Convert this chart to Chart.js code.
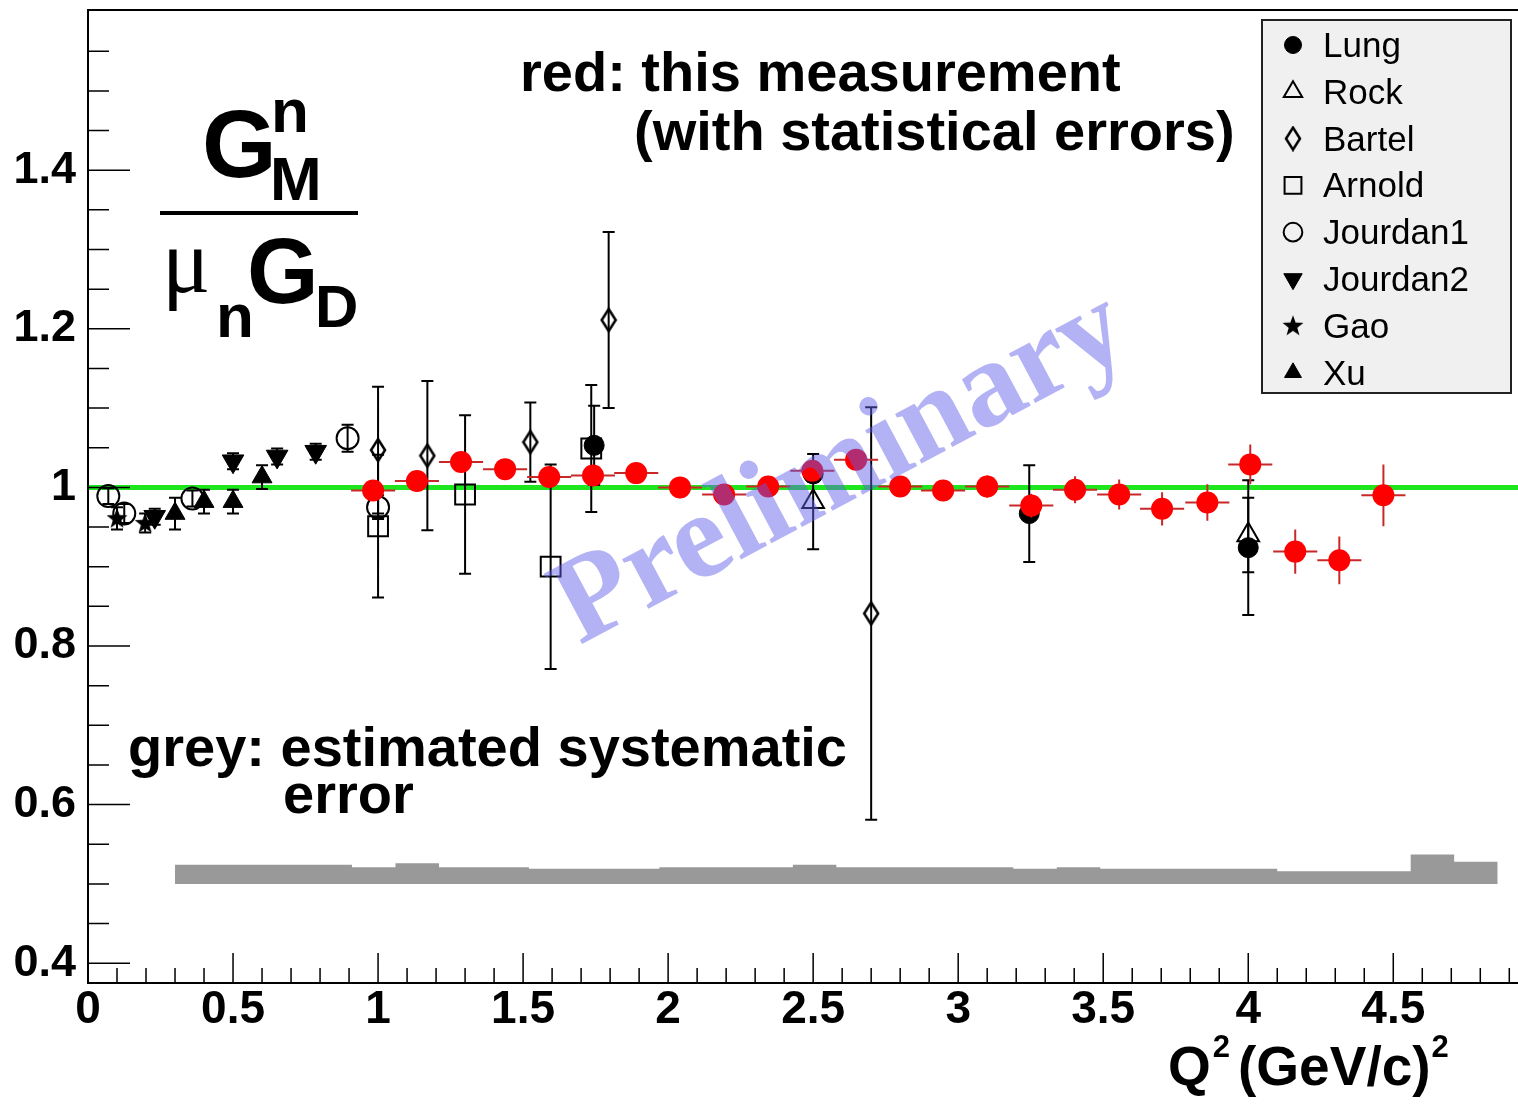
<!DOCTYPE html>
<html>
<head>
<meta charset="utf-8">
<script src="https://cdn.jsdelivr.net/npm/chart.js@4.4.1/dist/chart.umd.min.js"></script>
<style>
  html, body { margin: 0; padding: 0; background: #fff; }
  #wrap { width: 1518px; height: 1112px; }
</style>
</head>
<body>
<div id="wrap"><canvas id="myChart" width="1518" height="1112"></canvas></div>
<script>
// axis ranges and tick labels
var xRange = [0, 4.93];
var yRange = [0.375, 1.602];
var xTicks = [0, 0.5, 1, 1.5, 2, 2.5, 3, 3.5, 4, 4.5];
var yTicks = [0.4, 0.6, 0.8, 1, 1.2, 1.4];

// red: this measurement
var redQ2 = [0.983, 1.134, 1.286, 1.438, 1.590, 1.741, 1.890, 2.041, 2.193, 2.345, 2.497, 2.648,
             2.800, 2.948, 3.100, 3.252, 3.403, 3.555, 3.703, 3.859, 4.007, 4.162, 4.314, 4.466];
var redVal = [0.996, 1.008, 1.032, 1.023, 1.013, 1.015, 1.018, 1.000, 0.991, 1.001, 1.021, 1.035,
              1.001, 0.996, 1.001, 0.977, 0.997, 0.991, 0.973, 0.981, 1.029, 0.919, 0.908, 0.990];
var redErr = [0.009, 0.009, 0.009, 0.009, 0.010, 0.010, 0.010, 0.011, 0.011, 0.011, 0.012, 0.012,
              0.013, 0.013, 0.014, 0.015, 0.017, 0.019, 0.021, 0.023, 0.025, 0.028, 0.030, 0.039];
var redBinHalf = 0.076;

// grey: systematic error band (bin edges, top of band, bottom of band)
var bandEdges = [0.30, 0.45, 0.60, 0.76, 0.91, 1.06, 1.21, 1.36, 1.52, 1.67, 1.82, 1.97, 2.12, 2.28, 2.43, 2.58,
                 2.73, 2.88, 3.04, 3.19, 3.34, 3.49, 3.64, 3.80, 3.95, 4.10, 4.25, 4.40, 4.56, 4.71, 4.86];
var bandTop = [0.524, 0.524, 0.524, 0.524, 0.521, 0.526, 0.521, 0.521, 0.519, 0.519, 0.519, 0.521, 0.521, 0.521, 0.524,
               0.521, 0.521, 0.521, 0.521, 0.519, 0.521, 0.519, 0.519, 0.519, 0.519, 0.516, 0.516, 0.516, 0.537, 0.528];
var bandBase = 0.5;

var unityLine = [1, 1];

// world data
var lungQ2 = [1.745, 2.5, 3.245, 4.0];
var lungVal = [1.053, 1.017, 0.967, 0.924];
var lungErr = [0.05, 0.01, 0.061, 0.085];

var rockQ2 = [2.5, 4.0];
var rockVal = [0.982, 0.94];
var rockErr = [0.06, 0.047];

var bartelQ2 = [1.0, 1.17, 1.525, 1.795, 2.7];
var bartelVal = [1.047, 1.040, 1.057, 1.211, 0.841];
var bartelErr = [0.08, 0.094, 0.05, 0.111, 0.26];

var arnoldQ2 = [1.0, 1.3, 1.595, 1.735];
var arnoldVal = [0.951, 0.991, 0.900, 1.049];
var arnoldErr = [0.09, 0.1, 0.129, 0.08];

var jourdan1Q2 = [0.07, 0.125, 0.36, 0.895, 1.0];
var jourdan1Val = [0.989, 0.967, 0.986, 1.062, 0.975];
var jourdan1Err = [0.01, 0.012, 0.01, 0.017, 0.015];

var jourdan2Q2 = [0.23, 0.5, 0.652, 0.785];
var jourdan2Val = [0.963, 1.033, 1.039, 1.045];
var jourdan2Err = [0.01, 0.01, 0.01, 0.01];

var gaoQ2 = [0.1, 0.197];
var gaoVal = [0.961, 0.955];
var gaoErr = [0.014, 0.012];

var xuQ2 = [0.3, 0.4, 0.5, 0.6];
var xuVal = [0.967, 0.982, 0.982, 1.013];
var xuErr = [0.02, 0.015, 0.015, 0.015];

function pts(xs, ys) {
  var out = [];
  for (var i = 0; i < xs.length; i++) out.push({ x: xs[i], y: ys[i] });
  return out;
}

function makeStar() {
  var c = document.createElement('canvas');
  c.width = 24; c.height = 24;
  var g = c.getContext('2d');
  g.fillStyle = '#000';
  g.beginPath();
  for (var i = 0; i < 10; i++) {
    var r = i % 2 == 0 ? 11 : 4.5;
    var a = -Math.PI / 2 + i * Math.PI / 5;
    g.lineTo(12 + r * Math.cos(a), 12.5 + r * Math.sin(a));
  }
  g.closePath();
  g.fill();
  return c;
}

function makeDiamond() {
  var c = document.createElement('canvas');
  c.width = 18; c.height = 26;
  var g = c.getContext('2d');
  g.strokeStyle = '#000';
  g.lineWidth = 2.5;
  g.beginPath();
  g.moveTo(9, 2); g.lineTo(16, 13); g.lineTo(9, 24); g.lineTo(2, 13);
  g.closePath();
  g.stroke();
  return c;
}

var starImg = makeStar();
var diamondImg = makeDiamond();

function blackSet(label, xs, ys, errs, style, filled, radius, rot, order) {
  return {
    label: label,
    data: pts(xs, ys),
    errY: errs,
    errColor: '#000',
    capW: 6,
    pointStyle: style,
    pointRotation: rot || 0,
    pointRadius: radius,
    backgroundColor: filled ? '#000' : 'rgba(0,0,0,0)',
    borderColor: '#000',
    borderWidth: filled ? 1 : 2,
    order: order,
    inLegend: true
  };
}

var datasets = [
  {
    type: 'line',
    label: 'syst',
    data: pts(bandEdges, bandTop.concat([bandTop[bandTop.length - 1]])),
    stepped: true,
    fill: { value: bandBase },
    backgroundColor: '#999999',
    borderWidth: 0,
    pointRadius: 0,
    order: 20
  },
  {
    type: 'line',
    label: 'unity',
    data: pts(xRange, unityLine),
    borderColor: '#1ee61e',
    borderWidth: 5,
    pointRadius: 0,
    fill: false,
    order: 19
  },
  blackSet('Lung', lungQ2, lungVal, lungErr, 'circle', true, 10, 0, 3),
  blackSet('Rock', rockQ2, rockVal, rockErr, 'triangle', false, 12.5, 0, 4),
  blackSet('Bartel', bartelQ2, bartelVal, bartelErr, diamondImg, false, 10, 0, 5),
  blackSet('Arnold', arnoldQ2, arnoldVal, arnoldErr, 'rect', false, 14, 0, 6),
  blackSet('Jourdan1', jourdan1Q2, jourdan1Val, jourdan1Err, 'circle', false, 11, 0, 7),
  blackSet('Jourdan2', jourdan2Q2, jourdan2Val, jourdan2Err, 'triangle', true, 12.5, 180, 8),
  blackSet('Gao', gaoQ2, gaoVal, gaoErr, starImg, true, 11, 0, 9),
  blackSet('Xu', xuQ2, xuVal, xuErr, 'triangle', true, 11.5, 0, 10),
  {
    label: 'this measurement',
    data: pts(redQ2, redVal),
    errY: redErr,
    errX: redBinHalf,
    errColor: '#c82828',
    pointStyle: 'circle',
    pointRadius: 11,
    backgroundColor: '#ff0000',
    borderWidth: 0,
    order: 0
  }
];

var errorBars = {
  id: 'errorBars',
  beforeDatasetDraw: function (chart, args) {
    var ds = chart.data.datasets[args.index];
    if (!ds.errY) return;
    var xs = chart.scales.x, ys = chart.scales.y, ctx = chart.ctx;
    ctx.save();
    ctx.strokeStyle = ds.errColor;
    ctx.lineWidth = 2;
    ctx.beginPath();
    for (var i = 0; i < ds.data.length; i++) {
      var p = ds.data[i];
      var px = xs.getPixelForValue(p.x), py = ys.getPixelForValue(p.y);
      var top = ys.getPixelForValue(p.y + ds.errY[i]);
      var bot = ys.getPixelForValue(p.y - ds.errY[i]);
      ctx.moveTo(px, top); ctx.lineTo(px, bot);
      if (ds.capW) {
        ctx.moveTo(px - ds.capW, top); ctx.lineTo(px + ds.capW, top);
        ctx.moveTo(px - ds.capW, bot); ctx.lineTo(px + ds.capW, bot);
      }
      if (ds.errX) {
        ctx.moveTo(xs.getPixelForValue(p.x - ds.errX), py);
        ctx.lineTo(xs.getPixelForValue(p.x + ds.errX), py);
      }
    }
    ctx.stroke();
    ctx.restore();
  }
};

var watermark = {
  id: 'watermark',
  afterDatasetsDraw: function (chart) {
    var ctx = chart.ctx;
    ctx.save();
    ctx.translate(842, 470);
    ctx.rotate(-28 * Math.PI / 180);
    ctx.font = 'bold 122px "Liberation Serif"';
    ctx.fillStyle = 'rgba(95,95,235,0.48)';
    ctx.textAlign = 'center';
    ctx.textBaseline = 'middle';
    ctx.fillText('Preliminary', 0, 0);
    ctx.restore();
  }
};

var frameAndText = {
  id: 'frameAndText',
  afterDraw: function (chart) {
    var ctx = chart.ctx, a = chart.chartArea;
    var xs = chart.scales.x, ys = chart.scales.y;
    ctx.save();

    // frame
    ctx.strokeStyle = '#000';
    ctx.lineWidth = 2;
    ctx.beginPath();
    ctx.moveTo(a.right, a.top); ctx.lineTo(a.left, a.top);
    ctx.lineTo(a.left, a.bottom); ctx.lineTo(a.right, a.bottom);
    ctx.stroke();

    // inward ticks
    ctx.lineWidth = 1.5;
    ctx.beginPath();
    for (var k = 0; k <= 49; k++) {
      var v = k / 10;
      var px = xs.getPixelForValue(v);
      var len = (k % 5 == 0) ? 30 : 15;
      ctx.moveTo(px, a.bottom); ctx.lineTo(px, a.bottom - len);
    }
    for (var m = 0; m <= 24; m++) {
      var w = 0.4 + m * 0.05;
      var py = ys.getPixelForValue(w);
      if (py < a.top + 2) continue;
      var l2 = (m % 4 == 0) ? 42 : 21;
      ctx.moveTo(a.left, py); ctx.lineTo(a.left + l2, py);
    }
    ctx.stroke();

    // notes
    ctx.fillStyle = '#000';
    ctx.textBaseline = 'alphabetic';
    ctx.font = 'bold 56px "Liberation Sans"';
    ctx.fillText('red: this measurement', 520, 91);
    ctx.fillText('(with statistical errors)', 634, 150);
    ctx.fillText('grey: estimated systematic', 128, 766);
    ctx.fillText('error', 283, 813);

    // y title: G^n_M / mu_n G_D
    ctx.font = 'bold 96px "Liberation Sans"';
    ctx.fillText('G', 202, 177);
    ctx.font = 'bold 62px "Liberation Sans"';
    ctx.fillText('n', 271, 132);
    ctx.fillText('M', 270, 200);
    ctx.lineWidth = 4;
    ctx.beginPath();
    ctx.moveTo(160, 213); ctx.lineTo(358, 213);
    ctx.stroke();
    ctx.font = '90px "Liberation Serif"';
    ctx.fillText('\u03bc', 162, 292);
    ctx.font = 'bold 62px "Liberation Sans"';
    ctx.fillText('n', 216, 337);
    ctx.font = 'bold 92px "Liberation Sans"';
    ctx.fillText('G', 247, 303);
    ctx.font = 'bold 60px "Liberation Sans"';
    ctx.fillText('D', 315, 327);

    // x title: Q^2 (GeV/c)^2
    var x = 1168;
    ctx.font = 'bold 55px "Liberation Sans"';
    ctx.fillText('Q', x, 1085);
    x += ctx.measureText('Q').width + 2;
    ctx.font = 'bold 31px "Liberation Sans"';
    ctx.fillText('2', x, 1057);
    x += ctx.measureText('2').width + 8;
    ctx.font = 'bold 55px "Liberation Sans"';
    ctx.fillText('(GeV/c)', x, 1085);
    x += ctx.measureText('(GeV/c)').width + 1;
    ctx.font = 'bold 31px "Liberation Sans"';
    ctx.fillText('2', x, 1057);

    // legend box
    var bx = 1262, by = 20, bw = 249, bh = 373;
    ctx.fillStyle = '#f0f0f0';
    ctx.fillRect(bx, by, bw, bh);
    ctx.strokeStyle = '#222';
    ctx.lineWidth = 2;
    ctx.strokeRect(bx, by, bw, bh);
    var row = 0;
    chart.data.datasets.forEach(function (ds) {
      if (!ds.inLegend) return;
      var cy = 45 + row * 46.8;
      ctx.fillStyle = ds.backgroundColor;
      ctx.strokeStyle = ds.borderColor;
      ctx.lineWidth = ds.borderWidth;
      Chart.helpers.drawPoint(ctx, {
        pointStyle: ds.pointStyle,
        rotation: ds.pointRotation,
        radius: ds.pointRadius * 0.85,
        borderWidth: ds.borderWidth
      }, 1293, cy);
      ctx.fillStyle = '#000';
      ctx.font = '35px "Liberation Sans"';
      ctx.fillText(ds.label, 1323, cy + 12);
      row++;
    });

    ctx.restore();
  }
};

function noPad(s) {
  s.paddingTop = 0;
  s.paddingBottom = 0;
  s.paddingLeft = 0;
  s.paddingRight = 0;
}

Chart.defaults.font.family = '"Liberation Sans", Arial, sans-serif';
Chart.defaults.color = '#000';

var config = {
  type: 'scatter',
  data: { datasets: datasets },
  options: {
    responsive: false,
    animation: false,
    events: [],
    layout: { autoPadding: false, padding: { top: 10, right: 0, left: 0, bottom: 0 } },
    plugins: {
      legend: { display: false },
      tooltip: { enabled: false }
    },
    scales: {
      x: {
        type: 'linear',
        min: xRange[0],
        max: xRange[1],
        afterFit: function (s) { s.height = 129; noPad(s); },
        afterBuildTicks: function (s) { s.ticks = xTicks.map(function (v) { return { value: v }; }); },
        grid: { display: false, drawTicks: false },
        border: { display: false },
        ticks: {
          font: { weight: 'bold', size: 46 },
          color: '#000',
          padding: 0,
          maxRotation: 0,
          autoSkip: false,
          callback: function (v) { return String(v); }
        }
      },
      y: {
        type: 'linear',
        min: yRange[0],
        max: yRange[1],
        afterFit: function (s) { s.width = 88; noPad(s); },
        afterBuildTicks: function (s) { s.ticks = yTicks.map(function (v) { return { value: v }; }); },
        grid: { display: false, drawTicks: false },
        border: { display: false },
        ticks: {
          font: { weight: 'bold', size: 45 },
          color: '#000',
          padding: 12,
          autoSkip: false,
          callback: function (v) { return String(v); }
        }
      }
    }
  },
  plugins: [errorBars, watermark, frameAndText]
};

var myChart = new Chart(document.getElementById('myChart'), config);
</script>
</body>
</html>
